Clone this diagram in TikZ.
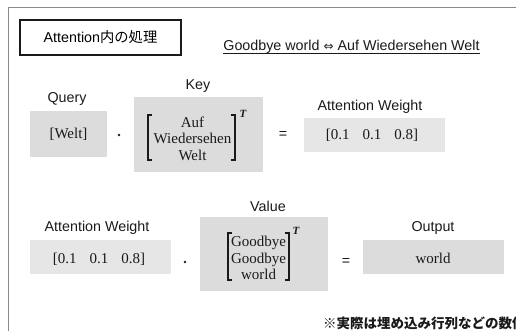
\documentclass[tikz,border=0pt]{standalone}
\usepackage{fontspec}
\setmainfont{Liberation Serif}
\setsansfont{Liberation Sans}
\newfontfamily\cjk{Noto Sans CJK JP}
\newfontfamily\dejavu{DejaVu Sans}
\definecolor{boxdark}{HTML}{DCDCDC}
\definecolor{boxlight}{HTML}{E6E6E6}
\definecolor{framegray}{HTML}{8A8A8A}
\definecolor{txt}{HTML}{1A1A1A}
\tikzset{
  lbl/.style={font=\sffamily\fontsize{14.3}{16}\selectfont, text=txt, inner sep=0pt},
  serif/.style={font=\rmfamily\fontsize{15}{16.5}\selectfont, text=txt, inner sep=0pt, align=center},
  darkbox/.style={fill=boxdark, draw=none},
  lightbox/.style={fill=boxlight, draw=none},
  opdot/.style={circle, fill=txt, inner sep=0pt, minimum size=2.8pt},
  brk/.style={draw=txt, line width=1.1pt},
  sup/.style={font=\rmfamily\bfseries\itshape\fontsize{11}{12}\selectfont, text=txt, inner sep=0pt},
}
\begin{document}
\begin{tikzpicture}[x=1pt,y=-1pt]
\useasboundingbox (0,0) rectangle (516,331);
\clip (0,0) rectangle (516,331);
% outer frame
\draw[framegray, line width=1pt] (8,8) rectangle (540,360);
% title box
\node[draw=txt, line width=1.3pt, minimum width=161pt, minimum height=35pt, inner sep=0pt] (title) at (100.5,37.5) {\sffamily\fontsize{14.3}{16}\selectfont Attention\cjk 内の処理};
\node[lbl, anchor=base] (gw) at (351.5,51) {Goodbye world {\dejavu\fontsize{12}{12}\selectfont ⇔} Auf Wiedersehen Welt};
\draw[txt, line width=0.8pt] ([yshift=-2.5pt]gw.base west) -- ([yshift=-2.5pt]gw.base east);
% row 1
\node[lbl] (qlbl) at (67,99) {Query};
\node[darkbox, minimum width=77pt, minimum height=46pt] (qbox) at (68.5,134) {};
\node[serif] (q) at (qbox.center) {[Welt]};
\node[opdot] (dot1) at (119,135) {};
\node[lbl] (klbl) at (198,86) {Key};
\node[darkbox, minimum width=129pt, minimum height=75pt] (kbox) at (198.5,134.5) {};
\node[serif] (k) at (192.5,138.5) {Auf\\Wiedersehen\\Welt};
\draw[brk] (152,115) -- (148,115) -- (148,160) -- (152,160);
\draw[brk] (231,115) -- (235,115) -- (235,160) -- (231,160);
\node[sup] (kt) at (243,114) {T};
\node[lbl] (eq1) at (283,135) {=};
\node[lbl] (awlbl) at (370,107) {Attention Weight};
\node[lightbox, minimum width=141pt, minimum height=34pt] (awbox) at (374.5,135) {};
\node[serif] (aw) at (372,135) {[0.1\hspace{13pt}0.1\hspace{13pt}0.8]};
% row 2
\node[lbl] (vlbl) at (268,206) {Value};
\node[lbl] (aw2lbl) at (97,228) {Attention Weight};
\node[lightbox, minimum width=141pt, minimum height=34pt] (aw2box) at (100.5,257) {};
\node[serif] (aw2) at (99,259) {[0.1\hspace{13pt}0.1\hspace{13pt}0.8]};
\node[opdot] (dot2) at (185,262) {};
\node[darkbox, minimum width=128pt, minimum height=74pt] (vbox) at (264,254) {};
\node[serif] (v) at (258.5,258) {Goodbye\\Goodbye\\world};
\draw[brk] (232,233) -- (228,233) -- (228,280) -- (232,280);
\draw[brk] (285,233) -- (289,233) -- (289,280) -- (285,280);
\node[sup] (vt) at (296,231) {T};
\node[lbl] (eq2) at (346,262) {=};
\node[lbl] (olbl) at (433,228) {Output};
\node[darkbox, minimum width=141pt, minimum height=34pt] (obox) at (433.5,257) {};
\node[serif] (o) at (433,258) {world};
% footnote
\node[anchor=west, inner sep=0pt, text=txt] (note) at (323,323) {\cjk\bfseries\fontsize{13.5}{15}\selectfont ※実際は埋め込み行列などの数値};
\end{tikzpicture}
\end{document}
